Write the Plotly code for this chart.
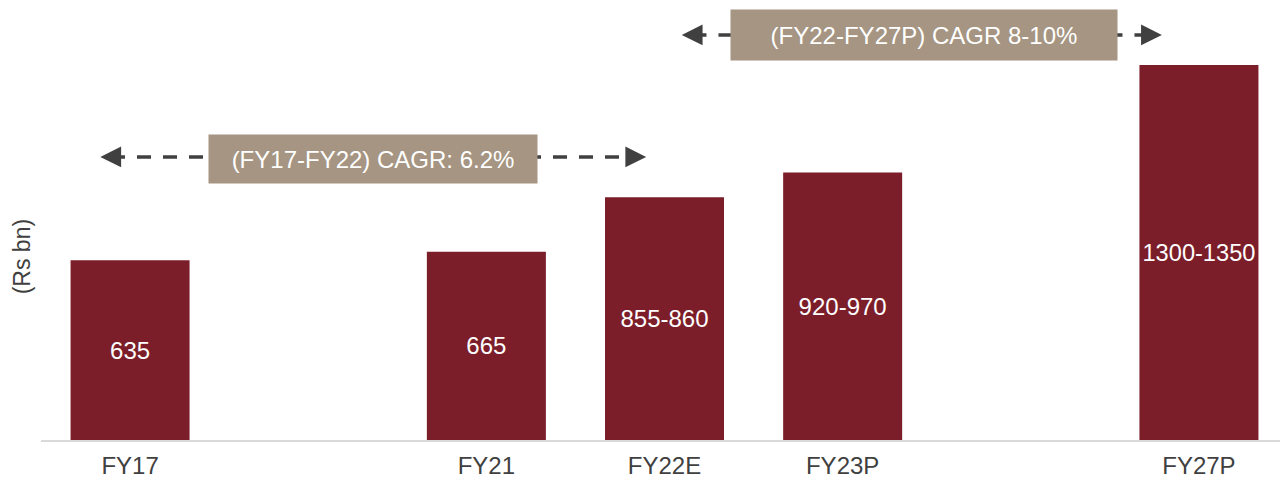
import plotly.graph_objects as go

# Data
categories = ["FY17", "FY21", "FY22E", "FY23P", "FY27P"]
axis_slots = ["FY17", " ", "FY21", "FY22E", "FY23P", "  ", "FY27P"]
values = [635, 665, 857.5, 945, 1325]
labels = ["635", "665", "855-860", "920-970", "1300-1350"]
cagr_texts = ["(FY17-FY22) CAGR: 6.2%", "(FY22-FY27P) CAGR 8-10%"]

BAR = "#7B1E29"
BOX = "#A59582"
DARK = "#404040"
FONT = "Liberation Sans, Arial, sans-serif"

fig = go.Figure()
fig.add_trace(go.Bar(
    x=categories, y=values, text=labels,
    marker=dict(color=BAR, line=dict(width=0)),
    width=0.668,
    textposition="inside", insidetextanchor="middle", textangle=0,
    textfont=dict(color="white", size=24, family=FONT),
    hoverinfo="skip",
))

# dashed arrows (line + heads)
arrows = [(-0.167, 2.897, 1000), (3.097, 5.792, 1431)]
for x0, x1, yv in arrows:
    fig.add_shape(type="line", xref="x", yref="y", x0=x0 + 0.06, x1=x1 - 0.06, y0=yv, y1=yv,
                  line=dict(color=DARK, width=3.5, dash="14px,12px"), layer="above")
    for tip, off in [(x0, 16), (x1, -16)]:
        fig.add_annotation(x=tip, y=yv, xref="x", yref="y", ax=off, ay=0, text="",
                           showarrow=True, arrowhead=2, arrowsize=1.3, arrowwidth=3.2,
                           arrowcolor=DARK, standoff=0)

# CAGR boxes
boxes = [(1.365, 991, 328, 48), (4.457, 1431, 386, 50)]
for (bx, by, w, h), t in zip(boxes, cagr_texts):
    fig.add_annotation(x=bx, y=by, xref="x", yref="y", text=t, showarrow=False,
                       bgcolor=BOX, width=w, height=h, borderpad=0,
                       font=dict(color="white", size=24, family=FONT),
                       xanchor="center", yanchor="middle", align="center", valign="middle")

# y title
fig.add_annotation(xref="paper", yref="paper", x=-0.0153, y=0.425, text="(Rs bn)",
                   textangle=-90, showarrow=False, xanchor="center", yanchor="middle",
                   font=dict(color=DARK, size=23, family=FONT))

fig.update_layout(
    width=1280, height=482,
    margin=dict(l=41, r=0, t=10, b=42),
    plot_bgcolor="white", paper_bgcolor="white",
    showlegend=False,
    font=dict(family=FONT, color=DARK),
    xaxis=dict(type="category", categoryorder="array", categoryarray=axis_slots,
               range=[-0.5, 6.455], showgrid=False, showline=True, linecolor="#D9D9D9",
               linewidth=2, ticks="", ticklabelstandoff=3,
               tickfont=dict(size=24, color=DARK, family=FONT),
               fixedrange=True),
    yaxis=dict(range=[0, 1519], showgrid=False, showticklabels=False, zeroline=False,
               showline=False, fixedrange=True),
)

fig.write_html("out.html", config={"displayModeBar": False},
               post_script="document.body.style.margin='0';")
